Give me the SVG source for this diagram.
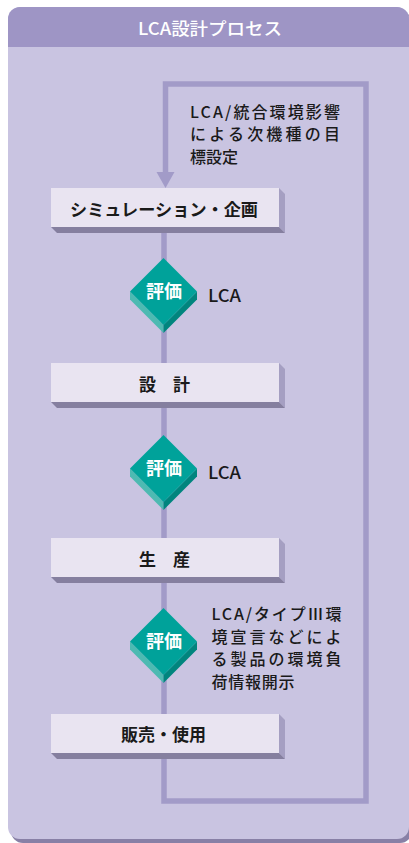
<svg xmlns="http://www.w3.org/2000/svg" xmlns:xlink="http://www.w3.org/1999/xlink" width="409" height="843" viewBox="0 0 409 843">
<style>
text{font-family:"Noto Sans CJK JP","Noto Sans",sans-serif;}
.lbl{font-size:17px;font-weight:700;fill:#1a1a1a;text-anchor:middle;}
.note{font-size:16px;font-weight:500;fill:#1a1a1a;}
.lca{font-size:17px;font-weight:500;fill:#1a1a1a;}
.eval{font-size:18px;font-weight:700;fill:#ffffff;text-anchor:middle;}
.title{font-size:17px;font-weight:500;fill:#ffffff;text-anchor:middle;}
.bface{fill:#e9e4f1;}
.bside{fill:#a59fc2;}
.bbot{fill:#857f9f;}
.dtop{fill:#00a29a;}
.dleft{fill:#4dbab2;}
.dright{fill:#00857e;}
.conn{fill:none;stroke:#a29bc8;stroke-width:5.5;}
</style>
<defs>
<g id="boxShape">
<polygon class="bside" points="228,0 234,6 234,45 228,39"/>
<polygon class="bbot" points="0,39 228,39 234,45 6,45"/>
<rect class="bface" x="0" y="0" width="228" height="39"/>
</g>
<g id="diaShape">
<polygon class="dleft" points="-33.5,33.5 0,67 0,75 -33.5,41.5"/>
<polygon class="dright" points="0,67 33.5,33.5 33.5,41.5 0,75"/>
<polygon class="dtop" points="0,0 33.5,33.5 0,67 -33.5,33.5"/>
</g>
</defs>
<g id="panel">
<rect x="11" y="11" width="401" height="832" rx="12" fill="#8880a6"/>
<rect x="8" y="7" width="401" height="832" rx="12" fill="#c9c4e1"/>
<path d="M8,47 V19 A12,12 0 0 1 20,7 H397 A12,12 0 0 1 409,19 V47 Z" fill="#9e95c5"/>
<text class="title" x="210" y="35" textLength="144" lengthAdjust="spacingAndGlyphs">LCA設計プロセス</text>
</g>
<g id="connectors">
<path class="conn" d="M165.5,173 V84 H366 V801 H164 V225"/>
<polygon points="156.5,172 174.5,172 165.5,188" fill="#a29bc8"/>
</g>
<g id="note-top">
<text class="note" x="190" y="117.5" textLength="150" lengthAdjust="spacing">LCA/統合環境影響</text>
<text class="note" x="190" y="140" textLength="150" lengthAdjust="spacing">による次機種の目</text>
<text class="note" x="190" y="162.5">標設定</text>
</g>
<g id="box-sim">
<use xlink:href="#boxShape" transform="translate(51,188)"/>
<text class="lbl" x="164" y="215.5" textLength="188" lengthAdjust="spacingAndGlyphs">シミュレーション・企画</text>
</g>
<g id="eval-1">
<use xlink:href="#diaShape" transform="translate(163.5,258)"/>
<text class="eval" x="164" y="298">評価</text>
<text class="lca" x="208" y="301.5" textLength="33" lengthAdjust="spacingAndGlyphs">LCA</text>
</g>
<g id="box-design">
<use xlink:href="#boxShape" transform="translate(51,363)"/>
<text class="lbl" x="164.5" y="390.5">設　計</text>
</g>
<g id="eval-2">
<use xlink:href="#diaShape" transform="translate(163.5,435)"/>
<text class="eval" x="164" y="475">評価</text>
<text class="lca" x="208" y="478.5" textLength="33" lengthAdjust="spacingAndGlyphs">LCA</text>
</g>
<g id="box-prod">
<use xlink:href="#boxShape" transform="translate(51,538)"/>
<text class="lbl" x="164.5" y="565.5">生　産</text>
</g>
<g id="eval-3">
<use xlink:href="#diaShape" transform="translate(163.5,608)"/>
<text class="eval" x="164" y="648">評価</text>
<text class="note" x="211.5" y="620" textLength="130" lengthAdjust="spacing">LCA/タイプⅢ環</text>
<text class="note" x="211.5" y="642.5" textLength="130" lengthAdjust="spacing">境宣言などによ</text>
<text class="note" x="211.5" y="665" textLength="130" lengthAdjust="spacing">る製品の環境負</text>
<text class="note" x="211.5" y="687.5" textLength="83" lengthAdjust="spacing">荷情報開示</text>
</g>
<g id="box-sales">
<use xlink:href="#boxShape" transform="translate(51,714)"/>
<text class="lbl" x="163.5" y="741">販売・使用</text>
</g>
</svg>
